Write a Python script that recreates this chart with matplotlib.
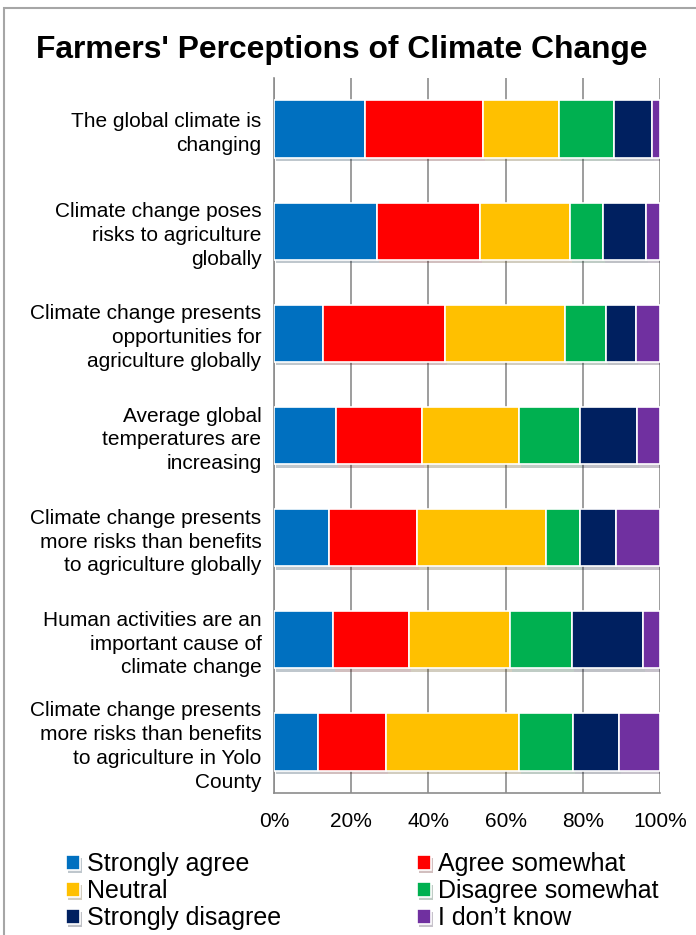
import numpy as np
import matplotlib
matplotlib.use('Agg')
import matplotlib.pyplot as plt
import matplotlib.patheffects as pe
from matplotlib.patches import Rectangle
from matplotlib.ticker import PercentFormatter

plt.rcParams['font.family'] = ['Liberation Sans', 'DejaVu Sans']

# Survey statements (top to bottom)
statements = [
    'The global climate is\nchanging',
    'Climate change poses\nrisks to agriculture\nglobally',
    'Climate change presents\nopportunities for\nagriculture globally',
    'Average global\ntemperatures are\nincreasing',
    'Climate change presents\nmore risks than benefits\nto agriculture globally',
    'Human activities are an\nimportant cause of\nclimate change',
    'Climate change presents\nmore risks than benefits\nto agriculture in Yolo\nCounty',
]

# response shares in %
strongly_agree    = [23.6, 26.7, 12.7, 16.1, 14.2, 15.3, 11.4]
agree_somewhat    = [30.6, 26.7, 31.6, 22.3, 22.8, 19.7, 17.6]
neutral           = [19.7, 23.3, 31.1, 25.1, 33.4, 26.2, 34.5]
disagree_somewhat = [14.2,  8.5, 10.6, 15.8,  8.8, 16.1, 14.0]
strongly_disagree = [ 9.8, 11.1,  7.8, 14.8,  9.3, 18.4, 11.9]
dont_know         = [ 2.1,  3.6,  6.2,  6.0, 11.4,  4.4, 10.6]

responses = ['Strongly agree', 'Agree somewhat', 'Neutral',
             'Disagree somewhat', 'Strongly disagree', 'I don\u2019t know']
series = [strongly_agree, agree_somewhat, neutral,
          disagree_somewhat, strongly_disagree, dont_know]
colors = ['#0070C0', '#FF0000', '#FFC000', '#00B050', '#002060', '#7030A0']

fig = plt.figure(figsize=(6.96, 9.35), dpi=100)
ax = fig.add_axes([274/696, 1 - 793/935, 386/696, 715/935])

y = np.arange(len(statements))
left = np.zeros(len(statements))
handles = []
for vals, lab, col in zip(series, responses, colors):
    vals = np.array(vals)
    bars = ax.barh(y, vals, left=left, height=0.56, color=col,
                   edgecolor='white', linewidth=1.2, label=lab, zorder=3)
    for b in bars:
        b.set_path_effects([pe.SimplePatchShadow(offset=(1.5, -2.5), alpha=0.25),
                            pe.Normal()])
    handles.append(bars)
    left += vals

ax.set_xlim(0, 100)
ax.set_ylim(len(statements) - 0.5, -0.5)
ax.set_xticks(np.arange(0, 101, 20))
ax.xaxis.set_major_formatter(PercentFormatter(decimals=0))
ax.set_yticks(y)
ax.set_yticklabels(statements, fontsize=15, linespacing=1.32)
ax.tick_params(axis='x', labelsize=15, length=0, pad=14)
ax.tick_params(axis='y', length=0, pad=9)
ax.grid(axis='x', color='#8c8c8c', linewidth=1.2, zorder=0)
for s in ['top', 'right']:
    ax.spines[s].set_visible(False)
for s in ['left', 'bottom']:
    ax.spines[s].set_color('#8c8c8c')
    ax.spines[s].set_linewidth(1.2)

fig.text(342/696, 1 - 50/935, "Farmers' Perceptions of Climate Change",
         ha='center', va='center', fontsize=22.9, fontweight='bold')

# legend laid out row by row like the original (2 columns)
order = [0, 2, 4, 1, 3, 5]
fig.legend([handles[i] for i in order], [responses[i] for i in order],
           ncol=2, loc='upper left', bbox_to_anchor=(66/696, 1 - 852/935),
           frameon=False, fontsize=18, handlelength=0.55, handleheight=0.55,
           handletextpad=0.3, labelspacing=0.12, columnspacing=5.42,
           borderpad=0, borderaxespad=0)

fig.patches.append(Rectangle((4/696, -0.02), 1.0, (935 - 8)/935 + 0.02,
                             transform=fig.transFigure, fill=False,
                             edgecolor='#a6a6a6', linewidth=1.5))

fig.savefig('out.png', dpi=100)
